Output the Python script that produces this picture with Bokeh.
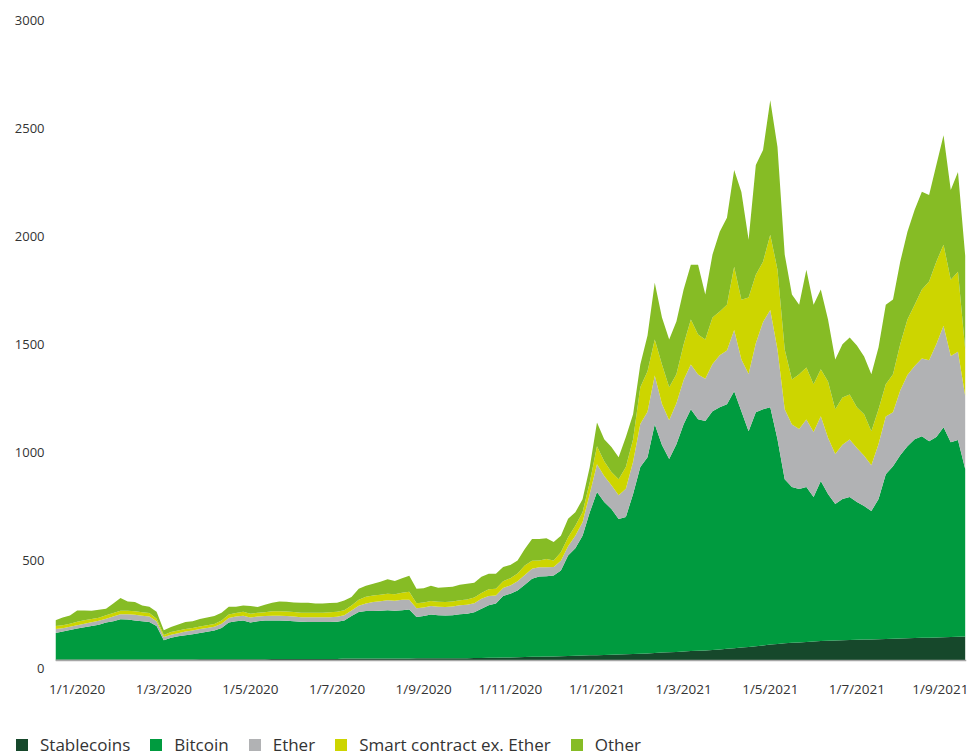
import pandas as pd
from bokeh.plotting import figure
from bokeh.layouts import column
from bokeh.models import (ColumnDataSource, Range1d, FixedTicker, Legend, LegendItem,
                          LinearAxis, Span)
from bokeh.embed import file_html
from bokeh.resources import INLINE

# ---------------- data (USD bn, every 5 days from 1 Jan 2020) ----------------
start_date = "2020-01-01"
step_days = 5

stablecoins = [5,5,5,5,5,5,5,5,5,5, 5,5,5,5,5,5,5,5,5,5,
               6,6,6,6,6,6,6,6,6,6, 7,7,7,7,7,7,7,7,7,7,
               9,9,9,9,9,9,9,9,9,9, 10,10,10,10,10,10,10,11,12,12,
               13,13,14,14,15,16,17,18,19,19, 20,21,22,23,24,25,26,27,28,29,
               30,31,33,35,37,38,40,42,44,45, 47,49,51,54,57,60,63,66,70,74,
               77,80,82,84,86,88,90,92,93,94, 95,96,97,98,99,100,101,102,103,104,
               105,106,107,108,109,110,111]

bitcoin = [123,129,137,143,149,155,161,171,177,186,
           185,181,177,174,155,89,100,107,112,117,
           122,127,133,145,170,176,180,170,176,179,
           179,179,177,175,173,172,172,172,172,173,
           177,198,216,221,221,222,224,222,224,227,
           192,196,203,200,199,200,205,206,212,228,
           243,251,285,296,310,335,362,372,372,375,
           397,466,499,556,663,756,709,676,628,637,
           742,866,910,1061,962,896,963,1054,1121,1074,
           1063,1107,1123,1134,1191,1096,1000,1085,1095,1100,
           949,761,722,711,718,670,742,680,633,655,
           663,639,620,595,650,764,800,850,891,922,
           935,911,929,974,903,912,777]

ether = [18,16,15,16,17,18,18,18,22,24,
         25,26,26,25,22,15,15,15,17,17,
         18,18,18,20,21,22,22,23,22,21,
         22,22,22,22,21,22,22,22,22,23,
         24,25,29,34,41,44,47,46,49,46,
         40,40,40,39,39,40,41,42,42,46,
         43,38,37,38,42,46,46,43,42,40,
         46,43,58,62,85,129,120,110,110,130,
         150,200,210,225,190,180,190,205,207,207,
         196,219,242,250,285,240,266,320,405,451,
         416,324,290,278,313,301,301,261,231,252,
         267,250,232,212,255,268,250,300,330,340,
         360,375,430,470,400,410,339]

smart_contract = [14,14,14,16,16,14,14,16,16,16,
                  16,16,16,16,12,9,12,12,12,12,
                  12,12,12,14,16,16,18,18,18,18,
                  21,21,21,21,21,21,21,21,23,23,
                  23,23,28,32,30,30,30,30,32,37,
                  23,23,23,23,23,24,24,24,26,27,
                  31,31,31,34,36,43,38,31,38,30,
                  39,42,46,46,54,83,69,61,74,101,
                  104,170,188,168,184,153,134,164,209,186,
                  183,215,202,212,293,277,354,318,279,349,
                  370,277,209,254,242,222,217,261,208,219,
                  209,189,193,158,161,149,176,214,257,284,
                  320,365,383,376,354,371,215]

other = [27,35,38,52,45,39,37,30,44,59,
         43,43,31,29,32,22,24,28,33,31,
         34,36,38,37,36,29,29,36,26,35,
         39,45,45,44,46,46,42,42,43,42,
         45,40,51,51,55,60,67,62,67,74,
         68,66,71,65,69,68,71,73,69,75,
         72,69,67,61,61,77,100,100,96,85,
         77,85,62,61,71,111,102,116,102,139,
         116,106,166,263,217,222,245,255,254,323,
         208,292,370,403,448,499,268,509,518,624,
         569,440,394,323,453,369,370,287,231,246,
         264,287,268,264,287,369,347,383,407,440,
         453,402,449,508,416,462,435]

series_names = ["Stablecoins", "Bitcoin", "Ether", "Smart contract ex. Ether", "Other"]
series_colors = ["#16482B", "#009B3F", "#B1B2B4", "#CDD500", "#86BC25"]

x_tick_labels = ["1/1/2020", "1/3/2020", "1/5/2020", "1/7/2020", "1/9/2020", "1/11/2020",
                 "1/1/2021", "1/3/2021", "1/5/2021", "1/7/2021", "1/9/2021"]
y_ticks = [0, 500, 1000, 1500, 2000, 2500, 3000]

# ---------------- build ----------------
def ms(ts):
    return pd.Timestamp(ts).value // 10**6

t0 = pd.Timestamp(start_date)
dates = [ms(t0 + pd.Timedelta(days=step_days * i)) for i in range(len(bitcoin))]

source = ColumnDataSource(dict(x=dates, stable=stablecoins, btc=bitcoin, eth=ether,
                               sc=smart_contract, oth=other))
stackers = ["stable", "btc", "eth", "sc", "oth"]

FONT = "Open Sans"
TXT = "#333333"

x_start = ms(t0)
x_end = ms(t0 + pd.Timedelta(hours=630.9 * 24))

# ---- main chart ----
p = figure(width=968, height=700, output_backend="svg", toolbar_location=None,
           x_axis_type="datetime", y_axis_location=None,
           x_range=Range1d(x_start, x_end), y_range=Range1d(-37, 3000),
           min_border_left=55, min_border_right=2, min_border_top=13, min_border_bottom=30)
p.outline_line_color = None
p.xgrid.visible = False
p.ygrid.visible = False
p.background_fill_color = "white"

p.varea_stack(stackers=stackers, x="x", color=series_colors, source=source)

# baseline of the value axis
p.add_layout(Span(location=0, dimension="width", line_color="#A6A6A6", line_width=1.5))

# x axis: labels evenly spaced, as in the source chart
tick_pos = [ms(t0 + pd.Timedelta(days=15 + 60 * i)) for i in range(len(x_tick_labels))]
p.xaxis.ticker = FixedTicker(ticks=tick_pos)
p.xaxis.major_label_overrides = {t: lab for t, lab in zip(tick_pos, x_tick_labels)}
p.xaxis.axis_line_color = None
p.xaxis.major_tick_line_color = None
p.xaxis.major_tick_out = 0
p.xaxis.major_tick_in = 0
p.xaxis.minor_tick_line_color = None
p.xaxis.major_label_standoff = 11
p.xaxis.major_label_text_font = FONT
p.xaxis.major_label_text_font_size = "13.5px"
p.xaxis.major_label_text_color = TXT

# value labels sit slightly below their gridline value, as in the source chart
p.extra_y_ranges = {"lab": Range1d(-2.3, 3034.7)}
yax = LinearAxis(y_range_name="lab", ticker=FixedTicker(ticks=y_ticks))
yax.axis_line_color = None
yax.major_tick_line_color = None
yax.major_tick_out = 0
yax.major_tick_in = 0
yax.minor_tick_line_color = None
yax.major_label_standoff = 11
yax.major_label_text_font = FONT
yax.major_label_text_font_size = "13px"
yax.major_label_text_color = TXT
p.add_layout(yax, "left")

# ---- legend strip (same series, nothing drawn in view) ----
lf = figure(width=968, height=56, output_backend="svg", toolbar_location=None,
            x_axis_location=None, y_axis_location=None,
            x_range=Range1d(0, 1), y_range=Range1d(0, 1),
            min_border_left=0, min_border_right=0, min_border_top=0, min_border_bottom=0)
lf.xgrid.visible = False
lf.ygrid.visible = False
lf.outline_line_color = None
leg_renderers = lf.varea_stack(stackers=stackers, x="x", color=series_colors, source=source)

# keep the legend strip's frame independent of the chart's frame
for fig in (p, lf):
    try:
        fig.frame_align = False
    except Exception:
        pass

lg = Legend(items=[LegendItem(label=n, renderers=[r]) for n, r in zip(series_names, leg_renderers)])
lg.orientation = "horizontal"
lg.location = (14, 0)
lg.padding = 0
lg.margin = 0
lg.spacing = 18
lg.border_line_color = None
lg.background_fill_alpha = 0
lg.glyph_width = 15
lg.glyph_height = 15
lg.label_standoff = 11
lg.label_text_font = FONT
lg.label_text_font_size = "17px"
lg.label_text_color = TXT
lf.add_layout(lg, "center")

layout = column(p, lf, spacing=0)
open("out.html", "w").write(file_html(layout, INLINE))
